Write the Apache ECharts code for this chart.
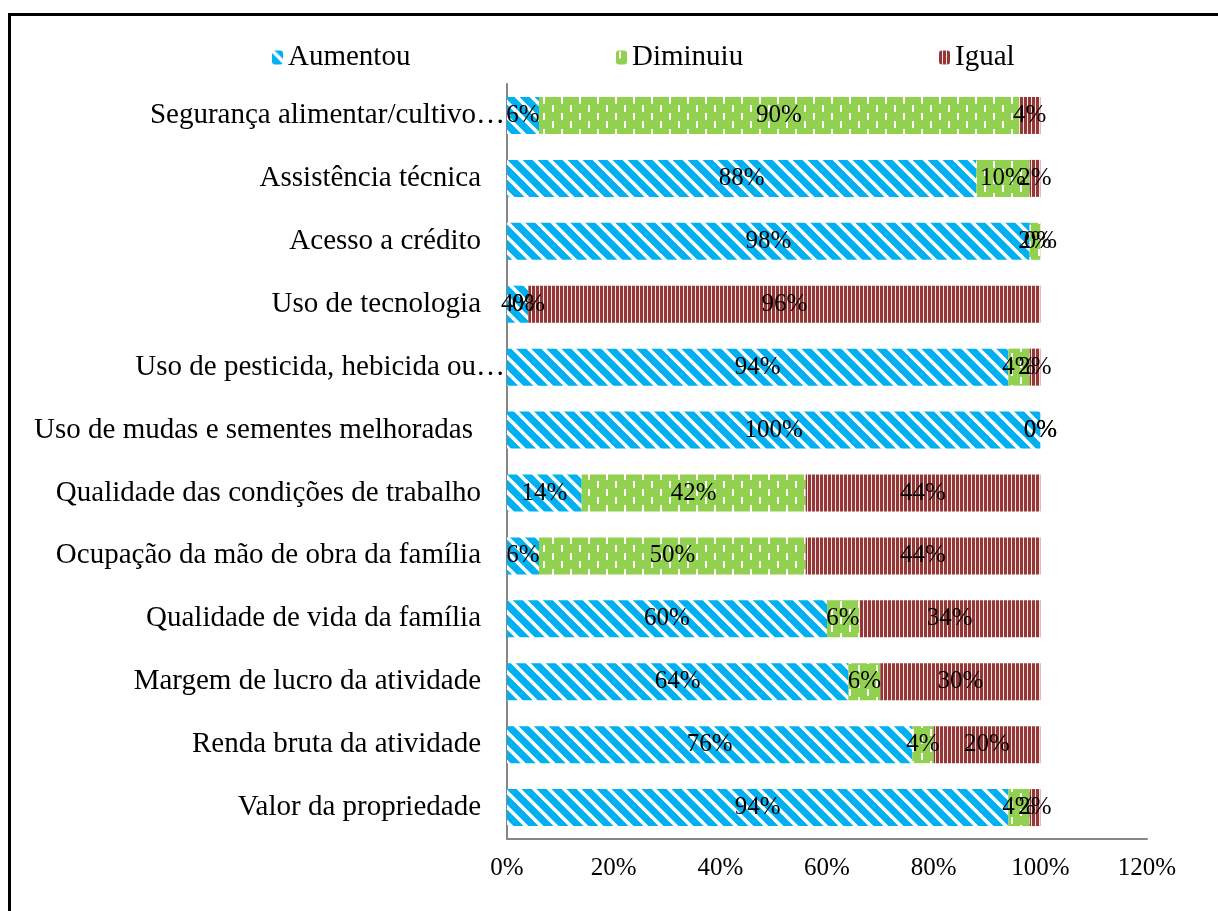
<!DOCTYPE html>
<html>
<head>
<meta charset="utf-8">
<script src="https://cdn.jsdelivr.net/npm/echarts@6/dist/echarts.min.js"></script>
<style>html,body{margin:0;padding:0;background:#fff;}#c{width:1218px;height:911px;}</style>
</head>
<body>
<div id="c"></div>
<script>
const categories = [
  'Segurança alimentar/cultivo…',
  'Assistência técnica',
  'Acesso a crédito',
  'Uso de tecnologia',
  'Uso de pesticida, hebicida ou…',
  'Uso de mudas e sementes melhoradas',
  'Qualidade das condições de trabalho',
  'Ocupação da mão de obra da família',
  'Qualidade de vida da família',
  'Margem de lucro da atividade',
  'Renda bruta da atividade',
  'Valor da propriedade'
];
const aumentou = [6, 88, 98, 4, 94, 100, 14, 6, 60, 64, 76, 94];
const diminuiu = [90, 10, 2, 0, 4, 0, 42, 50, 6, 6, 4, 4];
const igual    = [4, 2, 0, 96, 2, 0, 44, 44, 34, 30, 20, 2];
const seriesNames = ['Aumentou', 'Diminuiu', 'Igual'];
const xTicks = [0, 20, 40, 60, 80, 100, 120];

function makeCanvas(w, h, draw) {
  const c = document.createElement('canvas');
  c.width = w; c.height = h;
  draw(c.getContext('2d'));
  return c;
}
const bluePat = makeCanvas(15, 15, ctx => {
  ctx.fillStyle = '#00B0F0'; ctx.fillRect(0, 0, 15, 15);
  ctx.strokeStyle = '#ffffff'; ctx.lineWidth = 3.5;
  for (let k = -1; k <= 1; k++) {
    ctx.beginPath(); ctx.moveTo(k * 15 - 2, -2); ctx.lineTo(k * 15 + 17, 17); ctx.stroke();
  }
});
const greenPat = makeCanvas(18, 16, ctx => {
  ctx.fillStyle = '#92D050'; ctx.fillRect(0, 0, 18, 16);
  ctx.fillStyle = '#ffffff';
  ctx.fillRect(3, 1, 2, 7);
  ctx.fillRect(12, 9, 2, 7);
});
const redPat = makeCanvas(4, 4, ctx => {
  ctx.fillStyle = '#f4e6e6'; ctx.fillRect(0, 0, 4, 4);
  ctx.fillStyle = '#953735'; ctx.fillRect(0, 0, 3, 4);
});
const patterns = [bluePat, greenPat, redPat];
const values = [aumentou, diminuiu, igual];

const FONT = '"Liberation Serif", "Times New Roman", serif';
const chart = echarts.init(document.getElementById('c'), null, {renderer: 'canvas'});

const legendPos = [267, 611, 934];
const option = {
  animation: false,
  backgroundColor: '#ffffff',
  graphic: [{
    type: 'rect', shape: {x: 9.5, y: 14.5, width: 1300, height: 1000},
    style: {fill: 'none', stroke: '#000', lineWidth: 3}, silent: true, z: 100
  }],
  legend: seriesNames.map((n, i) => ({
    data: [n], left: legendPos[i], top: 38,
    itemWidth: 11, itemHeight: 14, itemGap: 6,
    textStyle: {fontFamily: FONT, fontSize: 29, color: '#000'}
  })),
  grid: {left: 507, right: 71, top: 84, bottom: 72, containLabel: false},
  xAxis: {
    type: 'value', min: 0, max: 120, interval: 20,
    axisLine: {show: true, lineStyle: {color: '#868686', width: 2}},
    axisTick: {show: false},
    splitLine: {show: false},
    axisLabel: {
      margin: 17, color: '#000', fontFamily: FONT, fontSize: 25,
      formatter: v => xTicks.includes(v) ? v + '%' : ''
    }
  },
  yAxis: {
    type: 'category', data: categories, inverse: true,
    axisLine: {show: true, lineStyle: {color: '#868686', width: 2}},
    axisTick: {show: false},
    axisLabel: {
      margin: 2, color: '#000', fontFamily: FONT, fontSize: 29,
      formatter: v => v.endsWith('…') ? '{t|' + v + '}'
        : (v.indexOf('melhoradas') >= 0 ? '{m|' + v + '}' : '{n|' + v + '}'),
      rich: {
        t: {fontFamily: FONT, fontSize: 29, color: '#000'},
        n: {fontFamily: FONT, fontSize: 29, color: '#000', padding: [0, 24, 0, 0]},
        m: {fontFamily: FONT, fontSize: 29, color: '#000', padding: [0, 32, 0, 0]}
      }
    }
  },
  series: seriesNames.map((n, i) => ({
    name: n, type: 'bar', stack: 'total', barWidth: 37,
    itemStyle: {color: {image: patterns[i], repeat: 'repeat'}},
    label: {
      show: true, position: 'inside', color: '#000',
      fontFamily: FONT, fontSize: 25, formatter: p => p.value + '%'
    },
    labelLayout: {hideOverlap: false},
    data: values[i]
  }))
};
chart.setOption(option);
</script>
</body>
</html>
